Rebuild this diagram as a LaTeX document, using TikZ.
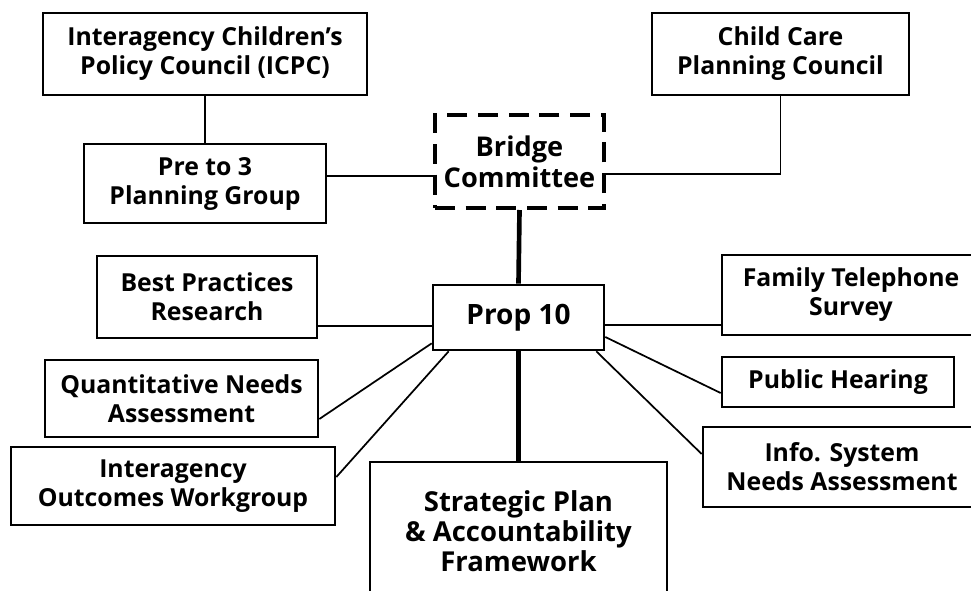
\documentclass[tikz,border=0pt]{standalone}
\usepackage{fontspec}
\setmainfont{Open Sans}
\usetikzlibrary{calc,positioning}

\begin{document}
\begin{tikzpicture}[x=0.75pt,y=-0.75pt,
    box/.style={draw,line width=2pt,rectangle,align=center,inner sep=0pt,
      font=\fontsize{18.6}{21.75}\selectfont\bfseries},
    dashbox/.style={box,line width=3pt,dash pattern=on 15pt off 8pt,
      font=\fontsize{20.4}{23.2}\selectfont\bfseries},
    link/.style={line width=1.3pt},
    trunk/.style={line width=3.5pt}]
    \useasboundingbox (0,0) rectangle (971,590);
    % upper level
    \node[box,minimum width=243pt,minimum height=61.5pt] (icpc) at (205,54) {Interagency Children’s\\Policy Council (ICPC)};
    \node[box,minimum width=181.5pt,minimum height=59.25pt] (pre) at (205,183.5) {Pre to 3\\Planning Group};
    \node[dashbox,minimum width=126.75pt,minimum height=69.75pt] (bridge) at (519.5,161.5) {Bridge\\Committee};
    \node[box,minimum width=192.75pt,minimum height=61.5pt] (care) at (780.5,54) {Child Care\\Planning Council};
    % centre
    \node[box,minimum width=128.25pt,minimum height=48.75pt,font=\fontsize{21}{25}\selectfont\bfseries] (prop) at (518.5,317.5) {Prop 10};
    % left side
    \node[box,minimum width=165pt,minimum height=61.5pt] (best) at (207,297) {Best Practices\\Research};
    \node[box,minimum width=204.75pt,minimum height=57.75pt] (quant) at (181.5,398.5) {Quantitative Needs\\Assessment};
    \node[box,minimum width=243pt,minimum height=58.5pt] (outc) at (173,486) {Interagency\\Outcomes Workgroup};
    % bottom
    \node[box,minimum width=222.75pt,minimum height=103.5pt,font=\fontsize{20.6}{22.5}\selectfont\bfseries] (plan) at (518.5,531) {Strategic Plan\\\& Accountability\\Framework};
    % right side
    \node[box,minimum width=193.5pt,minimum height=60pt] (phone) at (851,295) {Family Telephone\\Survey};
    \node[box,minimum width=174pt,minimum height=37.5pt] (hear) at (838,382) {Public Hearing};
    \node[box,minimum width=208.5pt,minimum height=60pt] (info) at (842,467) {Info. System\\Needs Assessment};

    \coordinate (bl) at ($(bridge.west)+(0,14.5)$);
    \coordinate (br) at ($(bridge.east)+(0,12.5)$);
    \draw[link] (icpc.south) -- (pre.north);
    \draw[link] (pre.east |- bl) -- (bl);
    \draw[link] (care.south) |- (br);
    \draw[trunk] (bridge.south) -- (prop.north);
    \draw[trunk] (prop.south) -- (plan.north);

    \coordinate (pw) at ($(prop.west)+(0,8.5)$);
    \draw[link] (best.east |- pw) -- (pw);
    \draw[link] ($(quant.east)+(0,20.5)$) -- ($(prop.south west)+(0,-8)$);
    \draw[link] ($(outc.east)+(0,-9)$) -- ($(prop.south west)+(17,0)$);

    \coordinate (pe) at ($(prop.east)+(0,7.5)$);
    \draw[link] (pe) -- (phone.west |- pe);
    \draw[link] ($(prop.east)+(0,19.5)$) -- ($(hear.west)+(0,11)$);
    \draw[link] ($(prop.south east)+(-9,0)$) -- ($(info.west)+(0,-13)$);
\end{tikzpicture}
\end{document}
